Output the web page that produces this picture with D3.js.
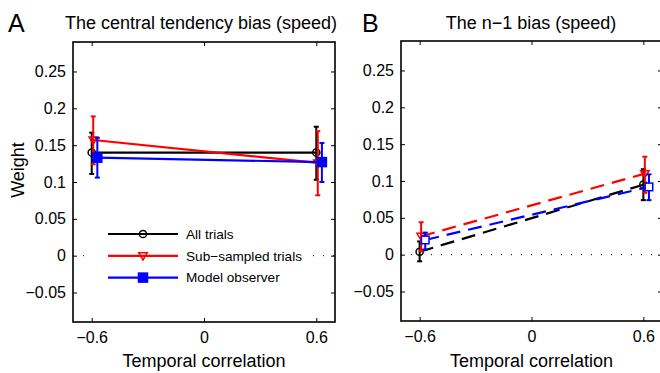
<!DOCTYPE html>
<html><head><meta charset="utf-8">
<script src="https://cdn.jsdelivr.net/npm/d3@7"></script>
<style>body{margin:0;background:#fff}svg{display:block;font-family:"Liberation Sans",Arial,sans-serif}</style>
</head><body>
<script>
// ---- data ----
const xCategories = [-0.6, 0.6];
const xTickValues = [-0.6, 0, 0.6];
const xTickLabels = ["\u22120.6", "0", "0.6"];
const yTickValues = [-0.05, 0, 0.05, 0.1, 0.15, 0.2, 0.25];
const yTickLabels = ["\u22120.05", "0", "0.05", "0.1", "0.15", "0.2", "0.25"];
const seriesNames = ["All trials", "Sub\u2212sampled trials", "Model observer"];
const seriesColors = ["#000000", "#ff0000", "#0000ff"];
const seriesOffsets = [0, 0.008, 0.03];

// Panel A: central tendency bias
const aAll = [0.140, 0.140];
const aAllLo = [0.111, 0.103];
const aAllHi = [0.167, 0.175];
const aSub = [0.157, 0.126];
const aSubLo = [0.124, 0.082];
const aSubHi = [0.189, 0.169];
const aModel = [0.133, 0.127];
const aModelLo = [0.106, 0.100];
const aModelHi = [0.160, 0.153];

// Panel B: n-1 bias
const bAll = [0.004, 0.095];
const bAllLo = [-0.009, 0.074];
const bAllHi = [0.018, 0.116];
const bSub = [0.025, 0.110];
const bSubLo = [0.005, 0.084];
const bSubHi = [0.044, 0.133];
const bModel = [0.020, 0.092];
const bModelLo = [0.007, 0.074];
const bModelHi = [0.030, 0.109];

const W = 660, H = 373;
const svg = d3.select("body").append("svg").attr("width", W).attr("height", H);

function panel(opts) {
  const x = d3.scaleLinear().domain([-0.7, 0.7]).range([opts.x0, opts.x1]);
  const y = d3.scaleLinear().domain([-0.09, 0.29]).range([opts.y1, opts.y0]);
  const g = svg.append("g");

  // zero dotted line
  g.append("line").attr("x1", x(-0.7)).attr("x2", x(0.7)).attr("y1", y(0)).attr("y2", y(0))
    .attr("stroke", "#000").attr("stroke-width", 1).attr("stroke-dasharray", "1,9");

  // legend background
  if (opts.legend) {
    g.append("rect").attr("x", 88).attr("y", 222).attr("width", 218).attr("height", 68).attr("fill", "#fff");
  }

  // axes (ticks inward)
  const tl = 4;
  const axB = d3.axisBottom(x).tickValues(xTickValues).tickFormat((d, i) => xTickLabels[i]).tickSizeInner(-tl).tickSizeOuter(0).tickPadding(10);
  const axT = d3.axisTop(x).tickValues(xTickValues).tickFormat("").tickSizeInner(-tl).tickSizeOuter(0);
  const axL = d3.axisLeft(y).tickValues(yTickValues).tickFormat((d, i) => yTickLabels[i]).tickSizeInner(-tl).tickSizeOuter(0).tickPadding(7);
  const axR = d3.axisRight(y).tickValues(yTickValues).tickFormat("").tickSizeInner(-tl).tickSizeOuter(0);
  const gb = g.append("g").attr("transform", `translate(0,${opts.y1})`).call(axB);
  const gt = g.append("g").attr("transform", `translate(0,${opts.y0})`).call(axT);
  const gl = g.append("g").attr("transform", `translate(${opts.x0},0)`).call(axL);
  const gr = g.append("g").attr("transform", `translate(${opts.x1},0)`).call(axR);
  [gb, gt, gl, gr].forEach(a => {
    a.select(".domain").remove();
    a.selectAll(".tick line").attr("stroke", "#000").attr("stroke-width", 1);
    a.selectAll("text").attr("font-size", 16).attr("fill", "#000").attr("font-family", "Liberation Sans, Arial, sans-serif");
  });
  gb.selectAll("text").attr("dy", "0.71em");
  // frame
  g.append("rect").attr("x", opts.x0).attr("y", opts.y0).attr("width", opts.x1 - opts.x0).attr("height", opts.y1 - opts.y0)
    .attr("fill", "none").attr("stroke", "#000").attr("stroke-width", 1.6);

  // series
  opts.series.forEach((s, si) => {
    const col = seriesColors[si];
    const off = seriesOffsets[si];
    const pts = xCategories.map((c, i) => ({x: x(c + off), y: y(s.v[i]), lo: y(s.lo[i]), hi: y(s.hi[i])}));
    g.append("path").attr("d", d3.line().x(d => d.x).y(d => d.y)(pts))
      .attr("fill", "none").attr("stroke", col).attr("stroke-width", 2.2)
      .attr("stroke-dasharray", opts.dashed ? "14,8" : null);
    pts.forEach(p => {
      g.append("line").attr("x1", p.x).attr("x2", p.x).attr("y1", p.lo).attr("y2", p.hi).attr("stroke", col).attr("stroke-width", 2);
      [p.lo, p.hi].forEach(yy => g.append("line").attr("x1", p.x - 2.5).attr("x2", p.x + 2.5).attr("y1", yy).attr("y2", yy).attr("stroke", col).attr("stroke-width", 2));
      drawMarker(g, si, p.x, p.y, col, opts.filledSquare);
    });
  });

  // labels
  svg.append("text").attr("x", opts.titleX).attr("y", 29).attr("text-anchor", "middle")
    .attr("font-size", 18).text(opts.title);
  svg.append("text").attr("x", opts.letterX).attr("y", 32).attr("font-size", 25).text(opts.letter);
  svg.append("text").attr("x", x(0)).attr("y", 367).attr("text-anchor", "middle").attr("font-size", 18).text("Temporal correlation");

  if (opts.legend) {
    seriesNames.forEach((n, i) => {
      const yy = 234 + i * 21.8;
      g.append("line").attr("x1", 108).attr("x2", 178).attr("y1", yy).attr("y2", yy).attr("stroke", seriesColors[i]).attr("stroke-width", 2.2);
      drawMarker(g, i, 143, yy, seriesColors[i], true);
      g.append("text").attr("x", 186).attr("y", yy).attr("dy", "0.35em").attr("font-size", 13.6).text(n);
    });
  }
}

function drawMarker(g, si, cx, cy, col, filledSquare) {
  if (si === 0) {
    g.append("circle").attr("cx", cx).attr("cy", cy).attr("r", 3.6).attr("fill", "none").attr("stroke", col).attr("stroke-width", 1.5);
  } else if (si === 1) {
    const s = 4.2;
    g.append("path").attr("d", `M${cx - s},${cy - s * 0.7}L${cx + s},${cy - s * 0.7}L${cx},${cy + s}Z`)
      .attr("fill", "none").attr("stroke", col).attr("stroke-width", 1.5);
  } else {
    const s = filledSquare ? 4.5 : 3.8;
    g.append("rect").attr("x", cx - s).attr("y", cy - s).attr("width", 2 * s).attr("height", 2 * s)
      .attr("fill", filledSquare ? col : "#fff").attr("stroke", col).attr("stroke-width", 1.5);
  }
}

panel({
  x0: 73, x1: 335, y0: 42, y1: 322, title: "The central tendency bias (speed)", titleX: 201, letter: "A", letterX: 8,
  legend: true, dashed: false, filledSquare: true,
  series: [{v: aAll, lo: aAllLo, hi: aAllHi}, {v: aSub, lo: aSubLo, hi: aSubHi}, {v: aModel, lo: aModelLo, hi: aModelHi}]
});
panel({
  x0: 401, x1: 662, y0: 41, y1: 321, title: "The n\u22121 bias (speed)", titleX: 531, letter: "B", letterX: 362,
  legend: false, dashed: true, filledSquare: false,
  series: [{v: bAll, lo: bAllLo, hi: bAllHi}, {v: bSub, lo: bSubLo, hi: bSubHi}, {v: bModel, lo: bModelLo, hi: bModelHi}]
});

// y label
svg.append("text").attr("transform", "translate(24,170) rotate(-90)").attr("text-anchor", "middle").attr("font-size", 18).text("Weight");
</script>
</body></html>
